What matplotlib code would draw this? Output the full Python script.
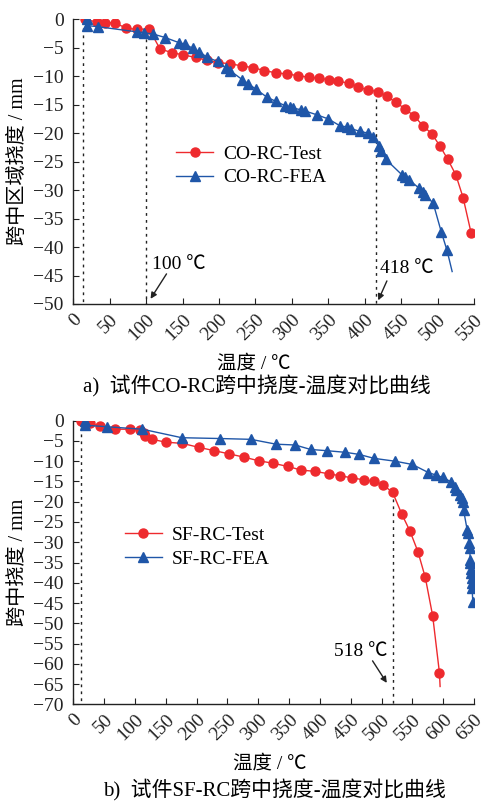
import matplotlib
matplotlib.use("Agg")
import matplotlib.pyplot as plt
import numpy as np

plt.rcParams['font.family'] = ['Liberation Serif', 'Noto Sans CJK SC', 'DejaVu Sans']
plt.rcParams['axes.unicode_minus'] = True
plt.rcParams['mathtext.fontset'] = 'stix'

# ---------- data (a) CO-RC ----------
co_test_T = [16, 33, 43, 57, 73, 88, 104, 119, 135, 151, 168, 183, 199, 215, 232, 247, 262, 278,
             293, 309, 324, 337, 351, 364, 378, 391, 404, 418, 430, 443, 455, 468, 480, 492, 503,
             514, 525, 535, 546]
co_test_D = [0, -0.5, -0.6, -0.6, -1.6, -1.75, -1.7, -5.2, -5.85, -6.25, -6.7, -7.2, -7.6, -7.8,
             -8.2, -8.5, -9.0, -9.4, -9.6, -9.9, -10.2, -10.35, -10.6, -10.9, -11.2, -11.9, -12.4,
             -12.7, -13.5, -14.6, -15.7, -17.0, -18.7, -20.1, -22.2, -24.6, -27.3, -31.3, -37.5]
co_fea_T = [19, 19, 34, 87, 97, 110, 126, 145, 154, 164, 173, 184, 198, 210, 215, 232, 240, 251,
            266, 278, 291, 297, 302, 313, 318, 335, 350, 366, 375, 381, 394, 405, 412, 419, 423,
            429, 451, 455, 461, 474, 480, 483, 494, 505, 513, 520]
co_fea_D = [0, -1.1, -1.3, -2.2, -2.35, -2.6, -3.2, -4.1, -4.4, -5.1, -5.7, -6.7, -7.4, -8.6,
            -9.0, -10.6, -11.3, -12.3, -13.7, -14.4, -15.2, -15.4, -15.6, -15.9, -16.1, -16.8,
            -17.5, -18.7, -18.9, -19.2, -19.7, -20.0, -20.6, -22.3, -23.2, -24.6, -27.3, -27.7,
            -28.2, -29.6, -30.4, -30.8, -32.3, -37.3, -40.6, -44.3]

# ---------- data (b) SF-RC ----------
sf_test_T = [12, 27, 43, 68, 92, 108, 114, 117, 128, 150, 177, 204, 229, 253, 277, 301, 324, 348,
             370, 392, 414, 433, 452, 471, 487, 503, 518, 533, 546, 559, 571, 583, 594, 595]
sf_test_D = [0, -0.66, -1.3, -2.1, -2.1, -2.3, -3.1, -3.7, -4.6, -5.3, -5.6, -6.6, -7.4, -8.2,
             -9.0, -9.9, -10.5, -11.3, -12.2, -12.5, -13.1, -13.6, -14.1, -14.6, -15.0, -15.9,
             -17.7, -23.1, -27.2, -32.3, -38.7, -48.2, -62.3, -65.6]
sf_fea_T = [19, 19, 55, 112, 176, 238, 288, 329, 360, 385, 411, 441, 463, 488, 522, 550, 576, 588,
            599, 613, 619, 621, 627, 630, 632, 633, 639, 640, 642, 643, 644, 644, 645, 645, 646,
            646, 647, 648]
sf_fea_D = [0, -1.1, -1.5, -2.1, -4.2, -4.4, -4.6, -5.8, -6.0, -7.1, -7.4, -7.8, -8.3, -9.3,
            -10.0, -10.8, -12.8, -13.4, -14.0, -15.1, -16.3, -17.0, -18.3, -19.2, -20.0, -22.0,
            -27.0, -27.8, -30.3, -31.5, -34.4, -35.2, -36.5, -37.7, -38.9, -40.1, -41.4, -44.7]

# reference lines / annotations
co_vlines = [14, 100, 416]
co_vline_tops = [-1.5, -2.3, -12.7]
sf_vlines = [12, 518]
sf_vline_tops = [-1.5, -17.7]

RED = '#ee2a2e'
BLUE = '#1f56a8'

W, H = 486, 802
fig = plt.figure(figsize=(W / 100, H / 100), dpi=100)

def px_axes(x0, y0, x1, y1):
    return fig.add_axes([x0 / W, 1 - y1 / H, (x1 - x0) / W, (y1 - y0) / H])

ax1 = px_axes(73.3, 19.3, 474, 304)
ax2 = px_axes(73.3, 420.7, 474, 704.3)

FS = 14

def style(ax, xmax, ymin, ystep):
    ax.set_xlim(0, xmax)
    ax.set_ylim(ymin, 0)
    ax.set_xticks(np.arange(0, xmax + 1, 50))
    ax.set_yticks(np.arange(ymin, 1, ystep))
    for s in ['top', 'right']:
        ax.spines[s].set_visible(False)
    for s in ['left', 'bottom']:
        ax.spines[s].set_linewidth(1.0)
        ax.spines[s].set_color('#222222')
    ax.tick_params(direction='in', length=4, width=0.8, labelsize=FS, colors='#222222')
    ax.tick_params(axis='y', pad=7)
    ax.tick_params(axis='x', pad=5)
    for lab in ax.get_xticklabels():
        lab.set_rotation(45)
        lab.set_ha('right')
        lab.set_va('top')
        lab.set_rotation_mode('anchor')

style(ax1, 550, -50, 5)
style(ax2, 650, -70, 5)

# vertical dashed lines
for x, top in zip(co_vlines, co_vline_tops):
    ax1.plot([x, x], [top, -50], ls=(0, (2, 3)), color='#222222', lw=1.0)
for x, top in zip(sf_vlines, sf_vline_tops):
    ax2.plot([x, x], [top, -70], ls=(0, (2, 3)), color='#222222', lw=1.0)

# curves
ax1.plot(co_test_T, co_test_D, color=RED, lw=1.0, marker='o', ms=6.5, mec=RED, mfc=RED,
         label='CO-RC-Test', zorder=3)
ax1.plot(co_fea_T, co_fea_D, color=BLUE, lw=1.0, marker='^', ms=7, mec=BLUE, mfc=BLUE,
         markevery=list(range(len(co_fea_T) - 1)), label='CO-RC-FEA', zorder=4)
ax2.plot(sf_test_T, sf_test_D, color=RED, lw=1.0, marker='o', ms=6.5, mec=RED, mfc=RED,
         markevery=list(range(len(sf_test_T) - 1)), label='SF-RC-Test', zorder=3)
ax2.plot(sf_fea_T, sf_fea_D, color=BLUE, lw=1.0, marker='^', ms=7, mec=BLUE, mfc=BLUE,
         label='SF-RC-FEA', zorder=4)

leg_kw = dict(frameon=False, fontsize=FS, handlelength=1.9, handletextpad=0.5,
              labelspacing=0.3, borderpad=0, borderaxespad=0, loc='upper left')
ax1.legend(bbox_to_anchor=(0.257, 0.557), **leg_kw)
ax2.legend(bbox_to_anchor=(0.128, 0.627), **leg_kw)

# annotations
arrow = dict(arrowstyle='-|>', color='#222222', lw=1.0, mutation_scale=9)
ax1.annotate('', xy=(104, -49.5), xytext=(130, -44.3), arrowprops=arrow)
ax1.text(108, -43.0, '100 ℃', fontsize=FS, ha='left', va='center')
ax1.annotate('', xy=(417, -49.8), xytext=(432, -45.5), arrowprops=arrow)
ax1.text(421, -43.8, '418 ℃', fontsize=FS, ha='left', va='center')
ax2.annotate('', xy=(511, -65.3), xytext=(483, -58.7), arrowprops=arrow)
ax2.text(510, -56.9, '518 ℃', fontsize=FS, ha='right', va='center')

# axis labels and captions
ax1.set_ylabel('跨中区域挠度 / mm', fontsize=14.5)
ax1.yaxis.set_label_coords(-0.114, 0.5)
ax2.set_ylabel('跨中挠度 / mm', fontsize=14.5)
ax2.yaxis.set_label_coords(-0.114, 0.5)
fig.text(254 / W, 1 - 363 / H, '温度 / ℃', fontsize=FS, ha='center', va='center')
fig.text(257 / W, 1 - 386 / H, 'a)  试件CO-RC跨中挠度-温度对比曲线', fontsize=15,
         ha='center', va='center')
fig.text(270 / W, 1 - 763 / H, '温度 / ℃', fontsize=FS, ha='center', va='center')
fig.text(274 / W, 1 - 790 / H, 'b)  试件SF-RC跨中挠度-温度对比曲线', fontsize=15,
         ha='center', va='center')

fig.savefig('out.png', dpi=100)
